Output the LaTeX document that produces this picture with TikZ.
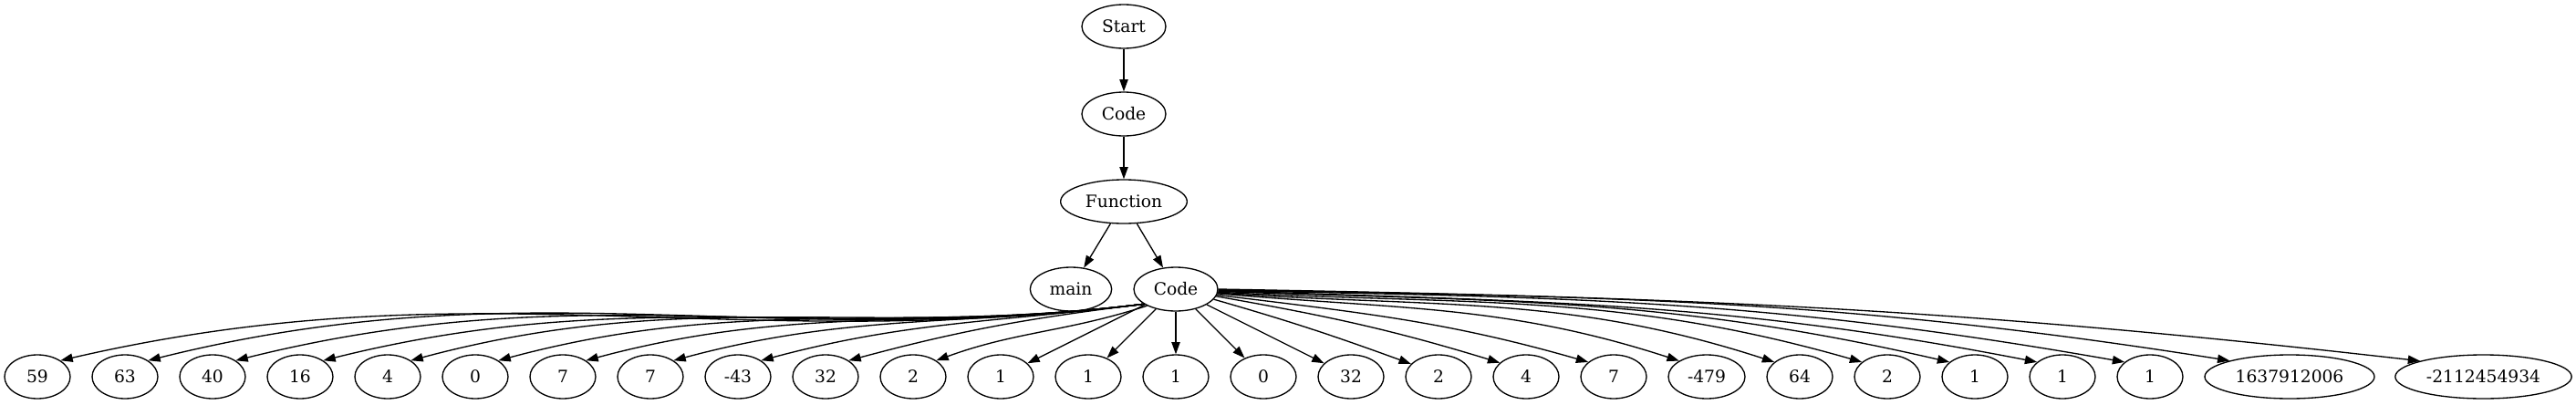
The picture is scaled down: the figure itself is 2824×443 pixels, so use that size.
\documentclass[tikz,border=0pt]{standalone}
\usepackage{fontspec}
\setmainfont{DejaVu Serif}
\usetikzlibrary{shapes.geometric,arrows.meta}
\begin{document}
\begin{tikzpicture}[x=0.75pt,y=-0.75pt,
  nd/.style={draw,ellipse,line width=1pt,inner sep=0pt,minimum width=54pt,minimum height=36pt,font=\fontsize{14pt}{16pt}\selectfont},
  e/.style={line width=1pt,-{Triangle[length=10pt,width=7pt]}}]
\fill[white] (0,0) rectangle (2824,443);
\useasboundingbox (0,0) rectangle (2824,443);
% upper part
\node[nd,minimum width=69pt] (start) at (1232,29) {Start};
\node[nd,minimum width=69pt] (code1) at (1232,125) {Code};
\node[nd,minimum width=104pt] (fn) at (1232,221) {Function};
\node[nd,minimum width=67pt] (main) at (1174,317) {main};
\node[nd,minimum width=69pt] (c2) at (1289,317) {Code};
% bottom row
\foreach \i/\l in {0/59,1/63,2/40,3/16,4/4,5/0,6/7,7/7,8/-43,9/32,10/2,11/1,12/1,13/1,14/0,15/32,16/2,17/4,18/7}
  \node[nd] (b\i) at ({41+96*\i},413) {\l};
\node[nd,minimum width=63pt] (b19) at (1871,413) {-479};
\node[nd] (b20) at (1973,413) {64};
\node[nd] (b21) at (2069,413) {2};
\node[nd] (b22) at (2165,413) {1};
\node[nd] (b23) at (2261,413) {1};
\node[nd] (b24) at (2357,413) {1};
\node[nd,minimum width=139.5pt] (b25) at (2510,413) {1637912006};
\node[nd,minimum width=145pt] (b26) at (2722.5,413) {-2112454934};
% upper edges
\draw[e] (start) -- (code1);
\draw[e] (code1) -- (fn);
\draw[e] (fn) -- (main);
\draw[e] (fn) -- (c2);
% left fan
\foreach \i/\a in {0/13,1/14,2/14,3/14,4/15,5/15,6/15,7/15,8/15,9/15}
  \draw[e] (c2.205) to[out=187,in=\a] (b\i.35);
\draw[e] (c2.210) to[out=198,in=20] (b10.35);
\draw[e] (c2) -- (b11);
\draw[e] (c2) -- (b12);
\draw[e] (c2) -- (b13);
\draw[e] (c2) -- (b14);
\draw[e] (c2) -- (b15);
% right fan
\draw[e] (c2.-15) to[out=-16,in=160] (b16.155);
\draw[e] (c2.-10) to[out=-10,in=163] (b17.152);
\draw[e] (c2.-8) to[out=-7,in=164] (b18.150);
\draw[e] (c2.-6) to[out=-5,in=162] (b19.150);
\draw[e] (c2.-5) to[out=-4,in=162] (b20.150);
\draw[e] (c2.-4) to[out=-3,in=164] (b21.150);
\draw[e] (c2.-3) to[out=-2,in=167] (b22.150);
\draw[e] (c2.-2) to[out=-2,in=169] (b23.150);
\draw[e] (c2.-2) to[out=-1,in=170] (b24.150);
\draw[e] (c2.-1) to[out=-1,in=171] (b25.165);
\draw[e] (c2.0) to[out=-1,in=173.5] (b26.166);
\end{tikzpicture}
\end{document}
